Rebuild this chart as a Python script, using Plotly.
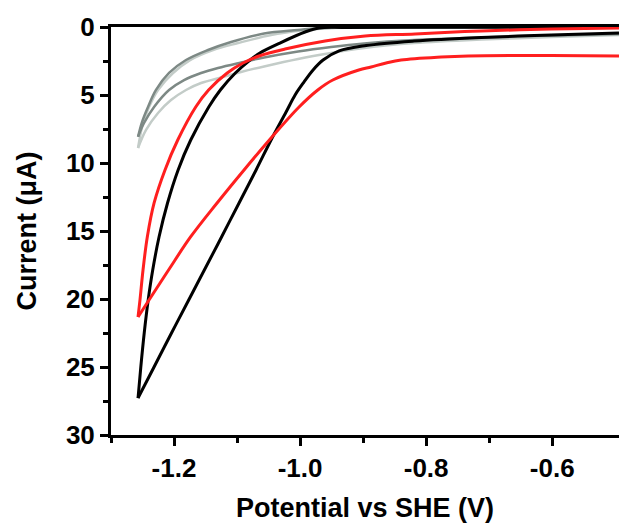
import plotly.graph_objects as go

# Potential (V vs SHE) and current (uA)
black_a_x = [-1.2571, -1.2527, -1.2473, -1.241, -1.2338, -1.2238, -1.2103, -1.1935, -1.1735, -1.1449, -1.1265, -1.1027, -1.0794, -1.0638, -1.0321, -0.9921, -0.9698, -0.93, -0.80, -0.65, -0.494]
black_a_y = [27.28, 25.0, 22.5, 20.07, 17.87, 15.44, 12.94, 10.51, 8.31, 5.88, 4.63, 3.38, 2.43, 1.91, 1.18, 0.37, 0.07, 0.03, 0.02, 0.02, 0.02]
black_b_x = [-1.2571, -1.2317, -1.204, -1.1767, -1.1519, -1.1246, -1.0968, -1.0698, -1.0444, -1.0222, -1.0079, -0.9937, -0.9794, -0.9635, -0.9381, -0.8952, -0.819, -0.7127, -0.6016, -0.494]
black_b_y = [27.28, 25.0, 22.5, 20.07, 17.87, 15.44, 12.94, 10.51, 8.16, 6.25, 5.0, 4.04, 3.16, 2.43, 1.76, 1.36, 1.03, 0.77, 0.59, 0.44]

red_a_x = [-1.2571, -1.254, -1.2492, -1.2424, -1.2316, -1.2143, -1.1941, -1.1656, -1.1452, -1.1156, -1.0905, -1.0651, -1.0238, -0.9603, -0.8968, -0.8175, -0.7127, -0.6016, -0.494]
red_a_y = [21.32, 20.07, 17.87, 15.44, 12.94, 10.51, 8.31, 5.88, 4.63, 3.38, 2.65, 2.13, 1.62, 1.03, 0.66, 0.51, 0.29, 0.15, 0.07]
red_b_x = [-1.2571, -1.2397, -1.2087, -1.1738, -1.1317, -1.0889, -1.046, -1.0016, -0.9719, -0.9481, -0.9068, -0.8873, -0.8635, -0.8397, -0.7762, -0.7333, -0.6016, -0.494]
red_b_y = [21.32, 20.07, 17.87, 15.44, 12.94, 10.51, 8.16, 5.88, 4.63, 3.90, 3.16, 2.94, 2.65, 2.43, 2.21, 2.13, 2.10, 2.13]

gray_a_x = [-1.2571, -1.2508, -1.2413, -1.2286, -1.2079, -1.181, -1.146, -1.1095, -1.0571, -1.0032, -0.9667, -0.8714, -0.70, -0.494]
gray_a_y = [8.07, 6.99, 5.88, 4.63, 3.38, 2.43, 1.69, 1.10, 0.48, 0.22, 0.07, 0.03, 0.02, 0.02]
gray_b_x = [-1.2571, -1.2476, -1.2317, -1.2079, -1.1841, -1.1571, -1.1302, -1.0937, -1.0571, -1.0032, -0.9508, -0.8984, -0.819, -0.7127, -0.6016, -0.494]
gray_b_y = [8.07, 7.06, 5.88, 4.63, 3.90, 3.38, 3.01, 2.61, 2.24, 1.80, 1.47, 1.21, 0.96, 0.77, 0.625, 0.51]

light_a_x = [-1.2571, -1.2492, -1.2397, -1.2254, -1.2016, -1.1746, -1.1381, -1.0984, -1.046, -0.9984, -0.9508, -0.8556, -0.70, -0.494]
light_a_y = [8.9, 7.06, 5.88, 4.63, 3.38, 2.43, 1.69, 1.18, 0.59, 0.26, 0.07, 0.03, 0.03, 0.03]
light_b_x = [-1.2571, -1.2444, -1.2254, -1.2048, -1.181, -1.1571, -1.1254, -1.0937, -1.0571, -1.0032, -0.9508, -0.8984, -0.819, -0.7127, -0.6016, -0.494]
light_b_y = [8.9, 7.57, 6.32, 5.37, 4.63, 4.12, 3.71, 3.31, 2.90, 2.35, 1.91, 1.54, 1.18, 0.92, 0.74, 0.59]

x_ticks = [-1.2, -1.0, -0.8, -0.6]
x_minor = [-1.3, -1.1, -0.9, -0.7]
y_ticks = [0, 5, 10, 15, 20, 25, 30]
y_minor = [2.5, 7.5, 12.5, 17.5, 22.5, 27.5]

LIGHT = "#c3ccc8"
GRAY = "#7d8985"
RED = "#ff1f1f"
BLACK = "#000000"

fig = go.Figure()
series = [
    (light_a_x, light_a_y, LIGHT, 2.5),
    (light_b_x, light_b_y, LIGHT, 2.5),
    (gray_a_x, gray_a_y, GRAY, 2.5),
    (gray_b_x, gray_b_y, GRAY, 2.5),
    (black_a_x, black_a_y, BLACK, 3),
    (black_b_x, black_b_y, BLACK, 3),
    (red_a_x, red_a_y, RED, 3),
    (red_b_x, red_b_y, RED, 3),
]
for xs, ys, c, w in series:
    fig.add_trace(go.Scatter(x=xs, y=ys, mode="lines",
                             line=dict(color=c, width=w, shape="spline", smoothing=1.0),
                             showlegend=False, hoverinfo="skip"))

font_main = dict(family="Liberation Sans, Arial, sans-serif", size=26, color="black")

fig.update_layout(
    width=619, height=523,
    margin=dict(l=111, r=0, t=27, b=88),
    paper_bgcolor="white", plot_bgcolor="white",
    font=font_main,
    xaxis=dict(
        range=[-1.3, -0.494], showgrid=False, zeroline=False,
        showline=True, linecolor="black", linewidth=3, mirror=True,
        tickmode="array", tickvals=x_ticks, ticktext=["<b>-1.2</b>", "<b>-1.0</b>", "<b>-0.8</b>", "<b>-0.6</b>"],
        ticks="outside", ticklen=8, tickwidth=3, tickcolor="black",
        minor=dict(tickmode="array", tickvals=x_minor, ticks="outside", ticklen=5, tickwidth=3, tickcolor="black"),
        title=dict(text="<b>Potential vs SHE (V)</b>", font=dict(size=27), standoff=20),
        tickfont=dict(size=26),
    ),
    yaxis=dict(
        range=[30, 0], showgrid=False, zeroline=False,
        showline=True, linecolor="black", linewidth=3, mirror=False,
        tickmode="array", tickvals=y_ticks, ticktext=["<b>%d</b>" % v for v in y_ticks],
        ticks="outside", ticklen=8, tickwidth=3, tickcolor="black",
        minor=dict(tickmode="array", tickvals=y_minor, ticks="outside", ticklen=5, tickwidth=3, tickcolor="black"),
        title=dict(text="<b>Current (\u03bcA)</b>", font=dict(size=27), standoff=22),
        tickfont=dict(size=26),
    ),
)

fig.write_html("out.html")
